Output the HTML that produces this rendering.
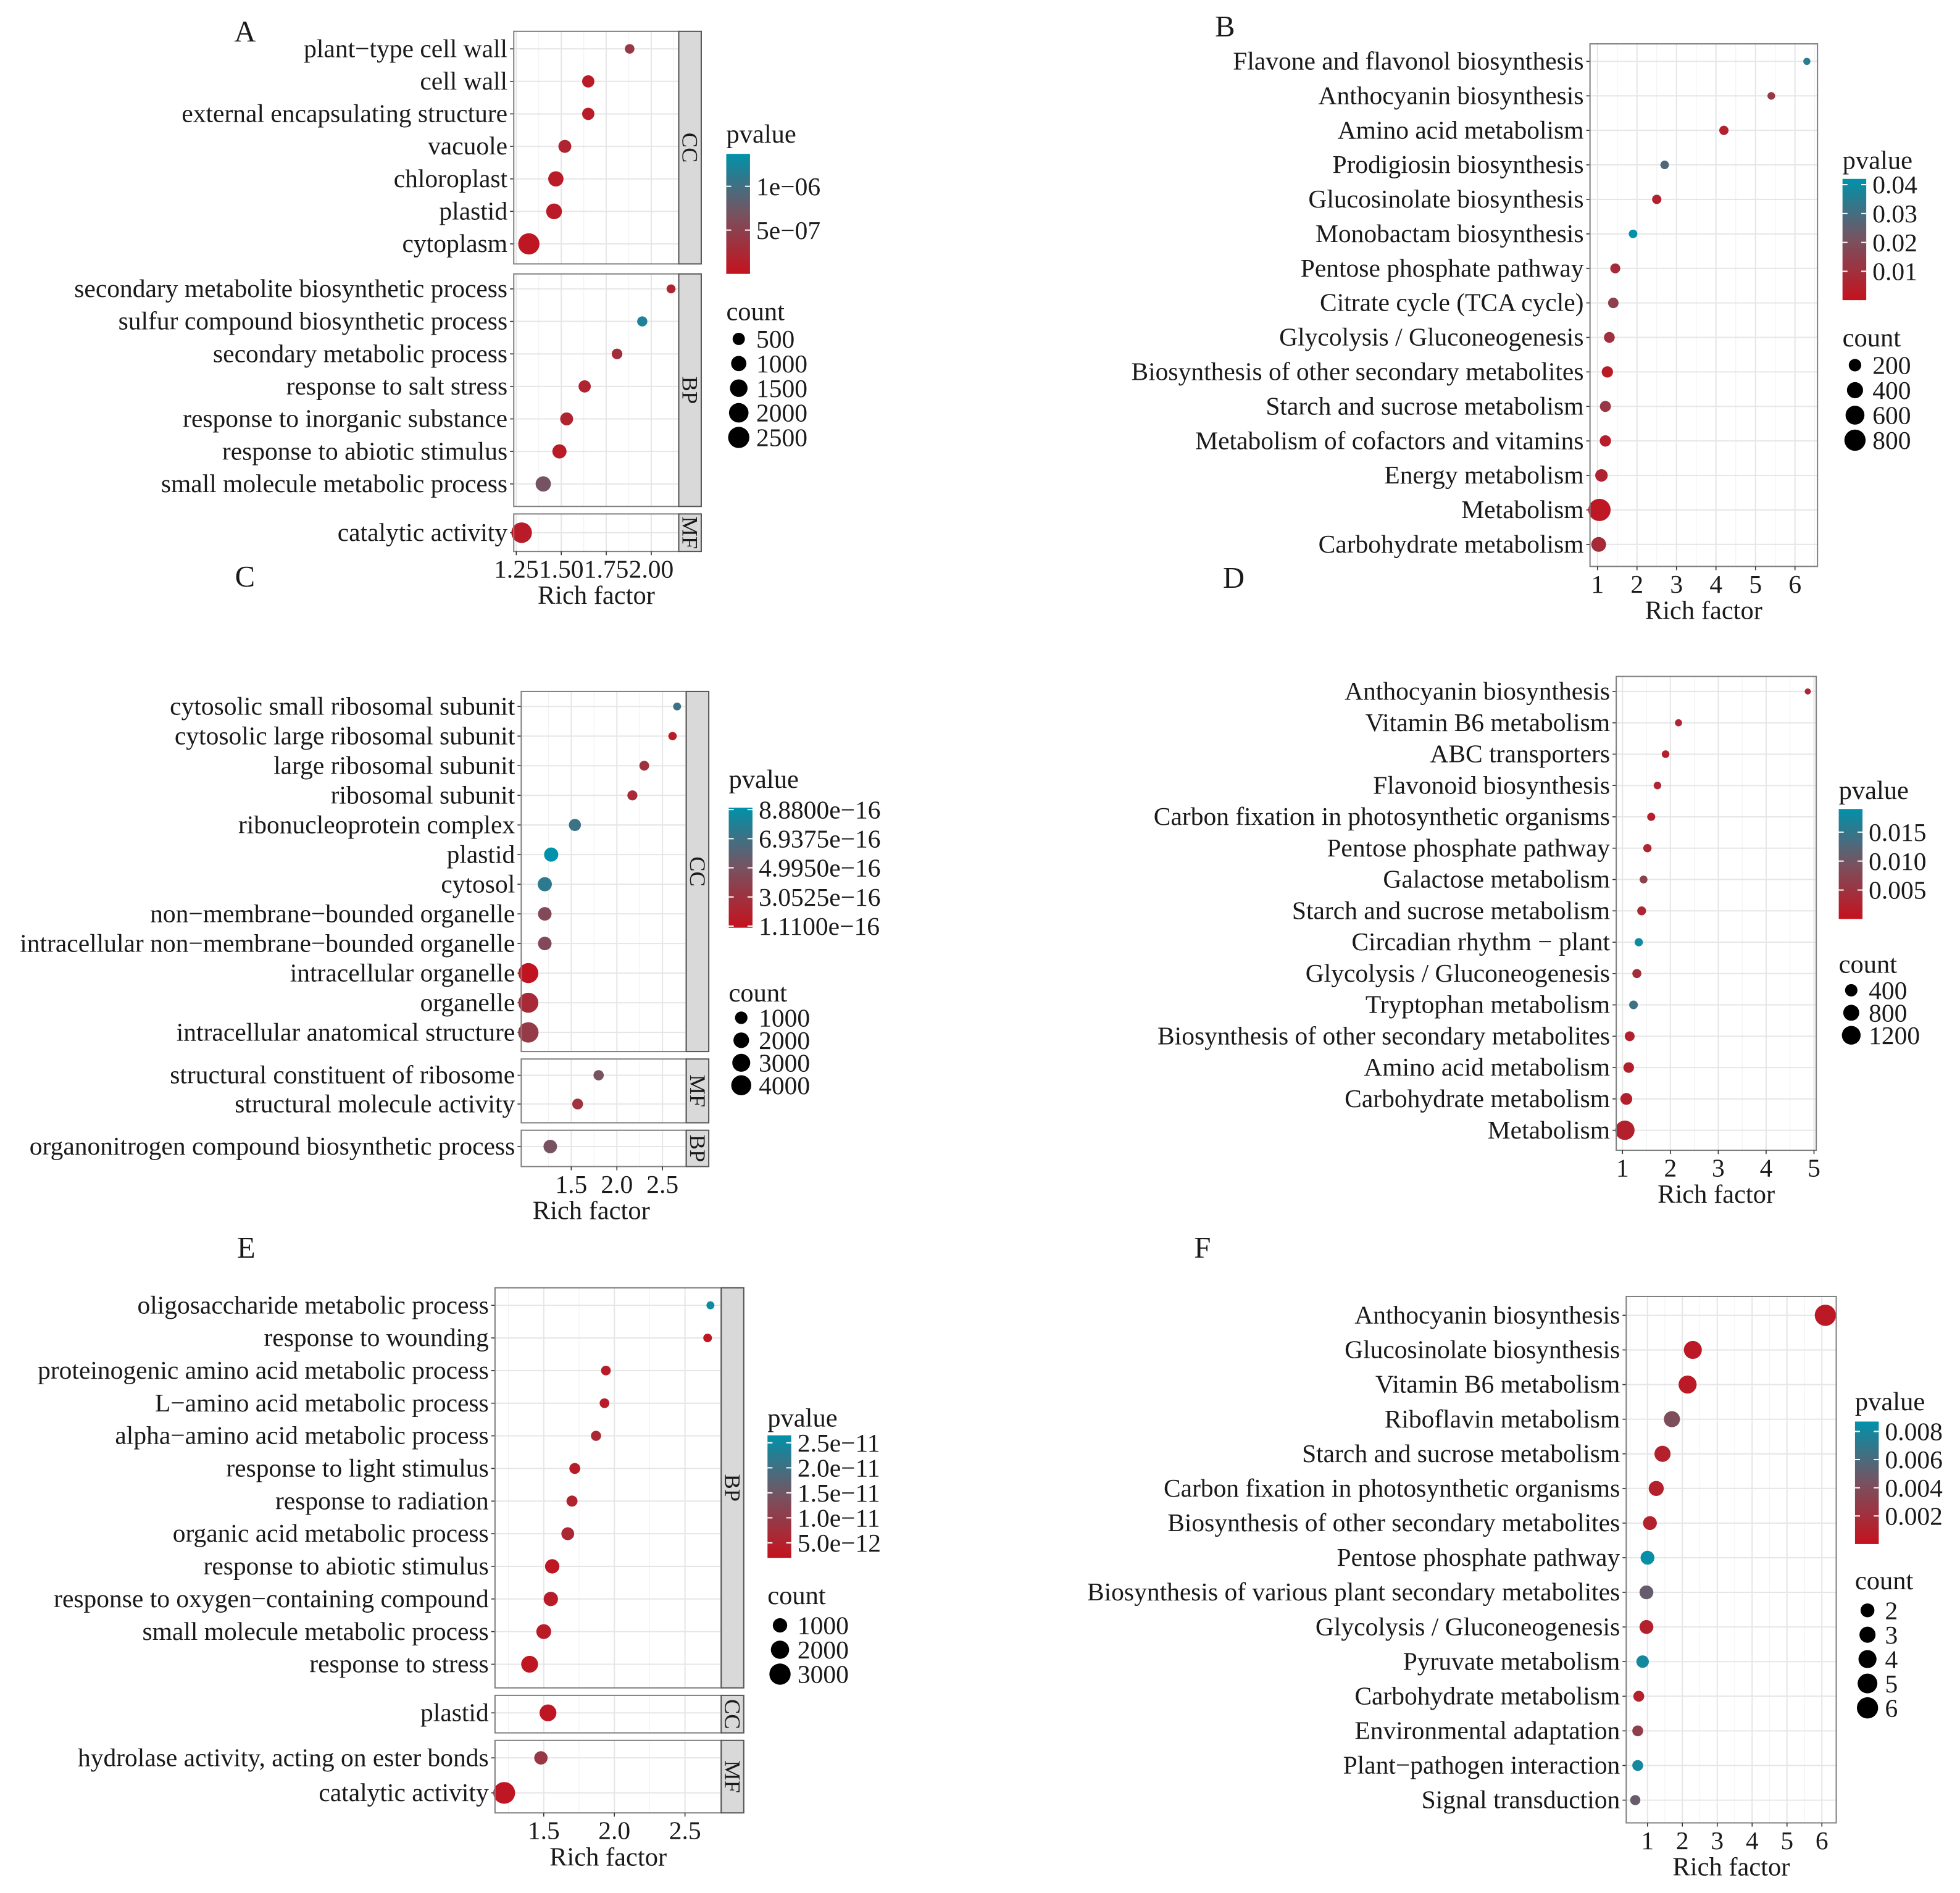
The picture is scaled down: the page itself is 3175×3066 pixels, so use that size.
<!DOCTYPE html>
<html><head><meta charset="utf-8"><style>
html,body{margin:0;padding:0;background:#fff;}
svg{display:block;}
text{font-family:"Liberation Serif",serif;fill:#1a1a1a;}
</style></head><body>
<svg id="fig" width="3175" height="3066" viewBox="0 0 1568 1514" xmlns="http://www.w3.org/2000/svg"></svg>
<script>
// ---- Panel A data ----
const labelsA=["plant\u2212type cell wall","cell wall","external encapsulating structure","vacuole","chloroplast","plastid","cytoplasm","secondary metabolite biosynthetic process","sulfur compound biosynthetic process","secondary metabolic process","response to salt stress","response to inorganic substance","response to abiotic stimulus","small molecule metabolic process","catalytic activity"];
const richA=[1.88,1.65,1.65,1.52,1.47,1.46,1.32,2.11,1.95,1.81,1.63,1.53,1.49,1.40,1.28];
const pA=[4e-7,1e-7,1e-7,2e-7,1e-7,1e-7,5e-8,2e-7,1.2e-6,3e-7,2e-7,2e-7,1e-7,7e-7,1e-7];
const countA=[200,500,500,600,1000,1100,2500,150,250,300,500,600,800,1000,2300];
const xticksA=[1.25,1.5,1.75,2.0];const xtickLabA=["1.25","1.50","1.75","2.00"];
const pTicksA=[1e-6,5e-7];const pTickLabA=["1e\u221206","5e\u221207"];
const cTicksA=[500,1000,1500,2000,2500];
// ---- Panel B data ----
const labelsB=["Flavone and flavonol biosynthesis","Anthocyanin biosynthesis","Amino acid metabolism","Prodigiosin biosynthesis","Glucosinolate biosynthesis","Monobactam biosynthesis","Pentose phosphate pathway","Citrate cycle (TCA cycle)","Glycolysis / Gluconeogenesis","Biosynthesis of other secondary metabolites","Starch and sucrose metabolism","Metabolism of cofactors and vitamins","Energy metabolism","Metabolism","Carbohydrate metabolism"];
const richB=[6.3,5.4,4.2,2.7,2.5,1.9,1.45,1.4,1.3,1.25,1.2,1.2,1.1,1.05,1.03];
const pB=[0.035,0.012,0.005,0.028,0.005,0.042,0.008,0.015,0.01,0.003,0.012,0.004,0.006,0.002,0.008];
const countB=[30,40,80,60,80,60,100,120,130,150,140,150,200,900,320];
const xticksB=[1,2,3,4,5,6];const xtickLabB=["1","2","3","4","5","6"];
const pTicksB=[0.04,0.03,0.02,0.01];const pTickLabB=["0.04","0.03","0.02","0.01"];
const cTicksB=[200,400,600,800];
// ---- Panel C data ----
const labelsC=["cytosolic small ribosomal subunit","cytosolic large ribosomal subunit","large ribosomal subunit","ribosomal subunit","ribonucleoprotein complex","plastid","cytosol","non\u2212membrane\u2212bounded organelle","intracellular non\u2212membrane\u2212bounded organelle","intracellular organelle","organelle","intracellular anatomical structure","structural constituent of ribosome","structural molecule activity","organonitrogen compound biosynthetic process"];
const richC=[2.66,2.61,2.3,2.17,1.54,1.28,1.21,1.21,1.21,1.03,1.03,1.03,1.8,1.57,1.27];
const pC=[7e-16,1.5e-16,3e-16,2.5e-16,7e-16,9e-16,7.5e-16,4.5e-16,4.5e-16,1.2e-16,2.5e-16,3.5e-16,5e-16,3e-16,5e-16];
const countC=[150,200,400,450,900,1500,1500,1300,1300,4000,4000,4200,500,600,1300];
const xticksC=[1.5,2.0,2.5];const xtickLabC=["1.5","2.0","2.5"];
const pTicksC=[8.88e-16,6.9375e-16,4.995e-16,3.0525e-16,1.11e-16];const pTickLabC=["8.8800e\u221216","6.9375e\u221216","4.9950e\u221216","3.0525e\u221216","1.1100e\u221216"];
const cTicksC=[1000,2000,3000,4000];
// ---- Panel D data ----
const labelsD=["Anthocyanin biosynthesis","Vitamin B6 metabolism","ABC transporters","Flavonoid biosynthesis","Carbon fixation in photosynthetic organisms","Pentose phosphate pathway","Galactose metabolism","Starch and sucrose metabolism","Circadian rhythm \u2212 plant","Glycolysis / Gluconeogenesis","Tryptophan metabolism","Biosynthesis of other secondary metabolites","Amino acid metabolism","Carbohydrate metabolism","Metabolism"];
const richD=[4.87,2.17,1.9,1.73,1.6,1.52,1.44,1.4,1.34,1.3,1.23,1.15,1.13,1.08,1.05];
const pD=[0.003,0.003,0.002,0.003,0.002,0.003,0.007,0.003,0.018,0.004,0.014,0.002,0.002,0.002,0.002];
const countD=[30,60,80,80,100,110,90,140,110,150,130,200,250,350,1300];
const xticksD=[1,2,3,4,5];const xtickLabD=["1","2","3","4","5"];
const pTicksD=[0.015,0.010,0.005];const pTickLabD=["0.015","0.010","0.005"];
const cTicksD=[400,800,1200];
// ---- Panel E data ----
const labelsE=["oligosaccharide metabolic process","response to wounding","proteinogenic amino acid metabolic process","L\u2212amino acid metabolic process","alpha\u2212amino acid metabolic process","response to light stimulus","response to radiation","organic acid metabolic process","response to abiotic stimulus","response to oxygen\u2212containing compound","small molecule metabolic process","response to stress","plastid","hydrolase activity, acting on ester bonds","catalytic activity"];
const richE=[2.68,2.66,1.94,1.93,1.87,1.72,1.7,1.67,1.56,1.55,1.5,1.4,1.53,1.48,1.22];
const pE=[2.5e-11,3e-12,4e-12,4e-12,6e-12,4e-12,5e-12,6e-12,3e-12,4e-12,4e-12,3e-12,3e-12,9e-12,3e-12];
const countE=[100,150,250,250,300,400,420,700,1000,1000,1100,1600,1600,800,3200];
const xticksE=[1.5,2.0,2.5];const xtickLabE=["1.5","2.0","2.5"];
const pTicksE=[2.5e-11,2.0e-11,1.5e-11,1.0e-11,5.0e-12];const pTickLabE=["2.5e\u221211","2.0e\u221211","1.5e\u221211","1.0e\u221211","5.0e\u221212"];
const cTicksE=[1000,2000,3000];
// ---- Panel F data ----
const labelsF=["Anthocyanin biosynthesis","Glucosinolate biosynthesis","Vitamin B6 metabolism","Riboflavin metabolism","Starch and sucrose metabolism","Carbon fixation in photosynthetic organisms","Biosynthesis of other secondary metabolites","Pentose phosphate pathway","Biosynthesis of various plant secondary metabolites","Glycolysis / Gluconeogenesis","Pyruvate metabolism","Carbohydrate metabolism","Environmental adaptation","Plant\u2212pathogen interaction","Signal transduction"];
const richF=[6.1,2.3,2.15,1.7,1.43,1.25,1.07,1.0,0.97,0.97,0.86,0.75,0.72,0.72,0.65];
const pF=[0.0005,0.0005,0.0005,0.004,0.001,0.001,0.001,0.0085,0.005,0.001,0.008,0.001,0.003,0.008,0.005];
const countF=[6,4,4,3,3,2.5,2,2,2,2,1.5,1,1,1,0.8];
const xticksF=[1,2,3,4,5,6];const xtickLabF=["1","2","3","4","5","6"];
const pTicksF=[0.008,0.006,0.004,0.002];const pTickLabF=["0.008","0.006","0.004","0.002"];
const cTicksF=[2,3,4,5,6];

const NS="http://www.w3.org/2000/svg";
const svg=document.getElementById('fig');
const FS=20.5;
function mk(tag,attrs,parent){const e=document.createElementNS(NS,tag);for(const k in attrs)e.setAttribute(k,attrs[k]);(parent||svg).appendChild(e);return e;}
const RED=[196,18,30],MID=[120,82,96],TEAL=[0,146,170];
function col(t){t=Math.max(0,Math.min(1,t));let a,b,u;if(t<0.5){a=RED;b=MID;u=t/0.5;}else{a=MID;b=TEAL;u=(t-0.5)/0.5;}return `rgb(${a.map((v,i)=>Math.round(v+(b[i]-v)*u)).join(',')})`;}

function panel(cfg){
  const g=mk('g',{});
  
  
  const xs=v=>cfg.px0+(v-cfg.v0)*cfg.ppu;
  const rS=c=>cfg.rmin+(cfg.rmax-cfg.rmin)*Math.sqrt(c/cfg.cmax);
  const lt=mk('text',{x:cfg.letter[0],y:cfg.letter[1],'font-size':24,'text-anchor':'middle'},g);lt.textContent=cfg.id;
  
  const minor=[];for(let i=0;i<cfg.xticks.length-1;i++)minor.push((cfg.xticks[i]+cfg.xticks[i+1])/2);
  minor.push(cfg.xticks[0]-(cfg.xticks[1]-cfg.xticks[0])/2);minor.push(cfg.xticks[cfg.xticks.length-1]+(cfg.xticks[1]-cfg.xticks[0])/2);
  cfg.facets.forEach(f=>{
    const fg=mk('g',{},g);
    
    
    mk('rect',{x:cfg.x0,y:f.y0,width:cfg.x1-cfg.x0,height:f.y1-f.y0,fill:'#fff'},fg);
    minor.forEach(v=>{const x=xs(v);if(x>cfg.x0&&x<cfg.x1)mk('line',{x1:x,x2:x,y1:f.y0,y2:f.y1,stroke:'#f2f2f2','stroke-width':0.6},fg);});
    cfg.xticks.forEach(v=>{mk('line',{x1:xs(v),x2:xs(v),y1:f.y0,y2:f.y1,stroke:'#e6e6e6','stroke-width':1},fg);});
    f.rows.forEach((idx,k)=>{
      const y=f.r0+k*f.sp;
      mk('line',{x1:cfg.x0,x2:cfg.x1,y1:y,y2:y,stroke:'#e6e6e6','stroke-width':1},fg);
      mk('line',{x1:cfg.x0-3,x2:cfg.x0,y1:y,y2:y,stroke:'#333','stroke-width':0.8},fg);
      const t=mk('text',{x:cfg.x0-5,y:y+6.5,'font-size':FS,'text-anchor':'end'},fg);t.textContent=cfg.labels[idx];
      
    });
    f.rows.forEach((idx,k)=>{
      const y=f.r0+k*f.sp;
      const c=mk('circle',{cx:xs(cfg.rich[idx]),cy:y,r:rS(cfg.count[idx]),fill:col((cfg.p[idx]-cfg.plo)/(cfg.phi-cfg.plo))},fg);
      
    });
    mk('rect',{x:cfg.x0,y:f.y0,width:cfg.x1-cfg.x0,height:f.y1-f.y0,fill:'none',stroke:'#7f7f7f','stroke-width':1},fg);
    if(f.name){
      mk('rect',{x:cfg.x1,y:f.y0,width:18,height:f.y1-f.y0,fill:'#d9d9d9',stroke:'#555','stroke-width':1},fg);
      const cy=(f.y0+f.y1)/2,cx=cfg.x1+9;
      const st=mk('text',{x:cx,y:cy,'font-size':18,'text-anchor':'middle','dominant-baseline':'central',transform:`rotate(90 ${cx} ${cy})`},fg);st.textContent=f.name;
      
    }
  });
  const last=cfg.facets[cfg.facets.length-1].y1;
  cfg.xticks.forEach((v,i)=>{
    mk('line',{x1:xs(v),x2:xs(v),y1:last,y2:last+3,stroke:'#333','stroke-width':0.8},g);
    const t=mk('text',{x:xs(v),y:last+21,'font-size':FS,'text-anchor':'middle'},g);t.textContent=cfg.xtickLab[i];
    
  });
  const xt=mk('text',{x:(cfg.x0+cfg.x1)/2+(cfg.xtOff||0),y:last+42,'font-size':21,'text-anchor':'middle'},g);xt.textContent='Rich factor';
  
  const L=cfg.leg;
  const pt=mk('text',{x:L.x,y:L.py,'font-size':21},g);pt.textContent='pvalue';
  
  const gid='grad'+cfg.id;
  const defs=mk('defs',{},g);const lg=mk('linearGradient',{id:gid,x1:0,y1:1,x2:0,y2:0},defs);
  for(let i=0;i<=10;i++)mk('stop',{offset:i/10,'stop-color':col(i/10)},lg);
  const cb=mk('rect',{x:L.x,y:L.b0,width:19,height:L.b1-L.b0,fill:`url(#${gid})`},g);
  
  const by=v=>L.b1-(v-cfg.plo)/(cfg.phi-cfg.plo)*(L.b1-L.b0);
  cfg.pTicks.forEach((v,i)=>{
    mk('line',{x1:L.x,x2:L.x+4,y1:by(v),y2:by(v),stroke:'#fff','stroke-width':1},g);
    mk('line',{x1:L.x+15,x2:L.x+19,y1:by(v),y2:by(v),stroke:'#fff','stroke-width':1},g);
    const t=mk('text',{x:L.x+24,y:by(v)+7,'font-size':FS},g);t.textContent=cfg.pTickLab[i];
    
  });
  const ct=mk('text',{x:L.x,y:L.cy,'font-size':21},g);ct.textContent='count';
  
  cfg.cTicks.forEach((v,i)=>{
    const y=L.c0+i*L.csp;
    const c=mk('circle',{cx:L.x+10,cy:y,r:rS(v),fill:'#000'},g);
    
    const t=mk('text',{x:L.x+24,y:y+7,'font-size':FS},g);t.textContent=String(v);
    
  });
}
const seq=(a,b)=>{const r=[];for(let i=a;i<=b;i++)r.push(i);return r;};

panel({id:'A',letter:[196,33],labels:labelsA,rich:richA,p:pA,count:countA,xticks:xticksA,xtickLab:xtickLabA,pTicks:pTicksA,pTickLab:pTickLabA,cTicks:cTicksA,
 x0:411,x1:543,v0:1.25,px0:413,ppu:144,plo:0,phi:1.37e-6,rmin:2,rmax:8.5,cmax:2500,
 facets:[{name:'CC',y0:25,y1:211,r0:39,sp:26,rows:seq(0,6)},{name:'BP',y0:219,y1:405,r0:231,sp:26,rows:seq(7,13)},{name:'MF',y0:411,y1:441,r0:426,sp:26,rows:[14]}],
 leg:{x:581,py:114,b0:123,b1:219,cy:256,c0:271,csp:19.7}});
panel({id:'B',letter:[980,29],labels:labelsB,rich:richB,p:pB,count:countB,xticks:xticksB,xtickLab:xtickLabB,pTicks:pTicksB,pTickLab:pTickLabB,cTicks:cTicksB,
 x0:1272,x1:1454,v0:1,px0:1278,ppu:31.6,plo:0,phi:0.042,rmin:1.5,rmax:8.5,cmax:800,
 facets:[{name:null,y0:35,y1:453,r0:49,sp:27.6,rows:seq(0,14)}],
 leg:{x:1474,py:135,b0:143,b1:240,cy:277,c0:292,csp:20}});
panel({id:'C',letter:[196,469],labels:labelsC,rich:richC,p:pC,count:countC,xticks:xticksC,xtickLab:xtickLabC,pTicks:pTicksC,pTickLab:pTickLabC,cTicks:cTicksC,
 x0:417,x1:549,v0:1.5,px0:457,ppu:73,plo:1.0e-16,phi:9.0e-16,rmin:2,rmax:8,cmax:4000,xtOff:-10,
 facets:[{name:'CC',y0:553,y1:841,r0:565,sp:23.7,rows:seq(0,11)},{name:'MF',y0:847,y1:898,r0:860,sp:23,rows:[12,13]},{name:'BP',y0:904,y1:933,r0:917,sp:23,rows:[14]}],
 leg:{x:583,py:630,b0:646,b1:742,cy:801,c0:814,csp:18}});
panel({id:'D',letter:[987,470],labels:labelsD,rich:richD,p:pD,count:countD,xticks:xticksD,xtickLab:xtickLabD,pTicks:pTicksD,pTickLab:pTickLabD,cTicks:cTicksD,
 x0:1293,x1:1453,v0:1,px0:1298,ppu:38.3,plo:0,phi:0.019,rmin:1.5,rmax:7.5,cmax:1200,
 facets:[{name:null,y0:541,y1:920,r0:553,sp:25.07,rows:seq(0,14)}],
 leg:{x:1471,py:639,b0:647,b1:735,cy:778,c0:792,csp:18}});
panel({id:'E',letter:[197,1006],labels:labelsE,rich:richE,p:pE,count:countE,xticks:xticksE,xtickLab:xtickLabE,pTicks:pTicksE,pTickLab:pTickLabE,cTicks:cTicksE,
 x0:396,x1:577,v0:1.5,px0:435,ppu:113,plo:2e-12,phi:2.65e-11,rmin:2,rmax:8.5,cmax:3000,
 facets:[{name:'BP',y0:1030,y1:1350,r0:1044,sp:26.1,rows:seq(0,11)},{name:'CC',y0:1356,y1:1386,r0:1370,sp:26,rows:[12]},{name:'MF',y0:1392,y1:1450,r0:1406,sp:28,rows:[13,14]}],
 leg:{x:614,py:1141,b0:1148,b1:1246,cy:1283,c0:1300,csp:19.5}});
panel({id:'F',letter:[962,1006],labels:labelsF,rich:richF,p:pF,count:countF,xticks:xticksF,xtickLab:xtickLabF,pTicks:pTicksF,pTickLab:pTickLabF,cTicks:cTicksF,
 x0:1301,x1:1469,v0:1,px0:1318,ppu:27.9,plo:0,phi:0.0087,rmin:1.5,rmax:8.5,cmax:6,
 facets:[{name:null,y0:1037,y1:1458,r0:1052,sp:27.7,rows:seq(0,14)}],
 leg:{x:1484,py:1128,b0:1137,b1:1235,cy:1271,c0:1288,csp:19.5}});
</script>
</body></html>
